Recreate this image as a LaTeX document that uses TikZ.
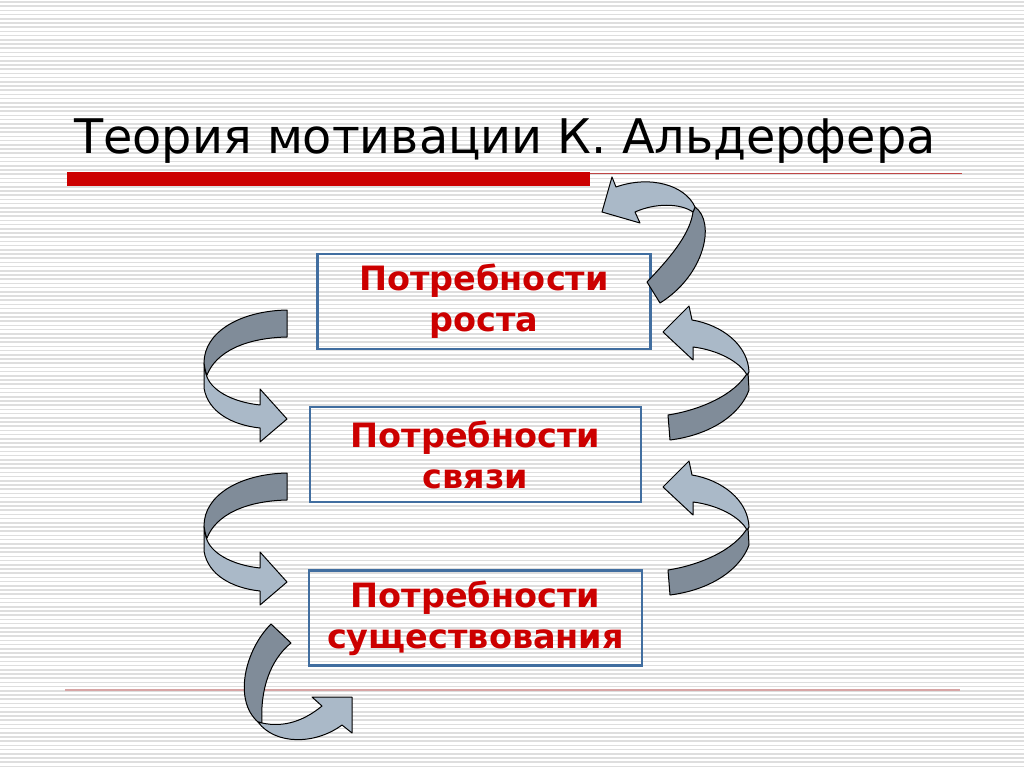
\documentclass[tikz,border=0pt]{standalone}
\usepackage{fontspec}
\setmainfont{DejaVu Sans}
\usetikzlibrary{calc}

\definecolor{boxblue}{RGB}{65,110,160}
\definecolor{needred}{RGB}{204,0,0}
\definecolor{arrowdark}{RGB}{128,140,153}
\definecolor{arrowlight}{RGB}{170,185,200}
\definecolor{stripegray}{RGB}{222,222,222}
\definecolor{barred}{RGB}{204,0,0}
\definecolor{rulered}{RGB}{190,70,70}
\definecolor{rulepink}{RGB}{215,165,165}

\tikzset{
  needbox/.style={draw=boxblue, line width=2.6pt, minimum width=333pt, minimum height=95pt,
    align=center, text=needred, font=\fontsize{33.5}{41}\selectfont\bfseries},
  backside/.style={fill=arrowdark, draw=black, line width=1pt, line join=round},
  frontside/.style={fill=arrowlight, draw=black, line width=1pt, line join=round},
}

\begin{document}
\begin{tikzpicture}[x=1pt,y=-1pt]

\fill[white] (0,0) rectangle (1024,767);
\useasboundingbox (0,0) rectangle (1024,767);
\foreach \y in {2,6.2,...,767}
  \draw[stripegray,line width=1.6pt] (0,\y) -- (1024,\y);

% title
\node[anchor=base west, inner sep=0pt, font=\fontsize{47.7}{52}\selectfont] (title) at (74,154) {Теория мотивации К. Альдерфера};
\fill[barred] (67,172) rectangle (590,186);
\draw[rulered,line width=1pt] (590,174) -- (962,174);
\draw[rulepink,line width=1.2pt] (65,690) -- (960,690);

% boxes
\node[needbox] (rost) at (484,301.5) {Потребности\\роста};
\node[needbox, minimum width=331pt] (svyaz) at (475.5,454.5) {Потребности\\связи};
\node[needbox] (sushch) at (475.5,618) {Потребности\\существования};

% left arrows
\foreach \dy in {0,163} {
\begin{scope}[shift={(0,\dy)}]
\draw[frontside] (204,363) -- (204,388) .. controls (208,412) and (232,425) .. (260,428)
  -- (260,442) -- (287,419) -- (260,389) -- (260,405)
  .. controls (232,402) and (210,390) .. (206,374) -- cycle;
\draw[backside] (287,310) .. controls (240,311) and (204,332) .. (204,363)
  .. controls (205,370) and (206,373) .. (207,375)
  .. controls (216,352) and (245,338) .. (287,337) -- cycle;
\end{scope}
}

% right arrows
\foreach \dy in {0,155} {
\begin{scope}[shift={(0,\dy)}]
\draw[backside] (668,415) .. controls (700,410) and (735,395) .. (748,372)
  -- (749,390) .. controls (740,415) and (710,435) .. (670,440) -- cycle;
\draw[frontside] (749,372) .. controls (748,345) and (722,325) .. (692,320)
  -- (689,306) -- (663,332) -- (693,360) -- (693,347)
  .. controls (718,350) and (740,362) .. (747,375) -- cycle;
\end{scope}
}

% top arrow
\draw[backside] (647,282) .. controls (668,260) and (690,235) .. (693,212) -- (695,207)
  .. controls (716,222) and (705,275) .. (660,303) -- cycle;
\draw[frontside] (695,207) .. controls (685,185) and (650,175) .. (616,187)
  -- (612,177) -- (602,212) -- (640,223) -- (635,212)
  .. controls (655,203) and (680,203) .. (693,212) -- cycle;

% bottom arrow
\draw[backside] (271,624) .. controls (245,650) and (233,700) .. (258,722) -- (262,723)
  .. controls (260,690) and (270,660) .. (291,643) -- cycle;
\draw[frontside] (258,722) .. controls (275,745) and (315,745) .. (342,725)
  -- (352,733) -- (352,697) -- (312,697) -- (322,706)
  .. controls (305,720) and (285,728) .. (262,723) -- cycle;

\end{tikzpicture}
\end{document}
